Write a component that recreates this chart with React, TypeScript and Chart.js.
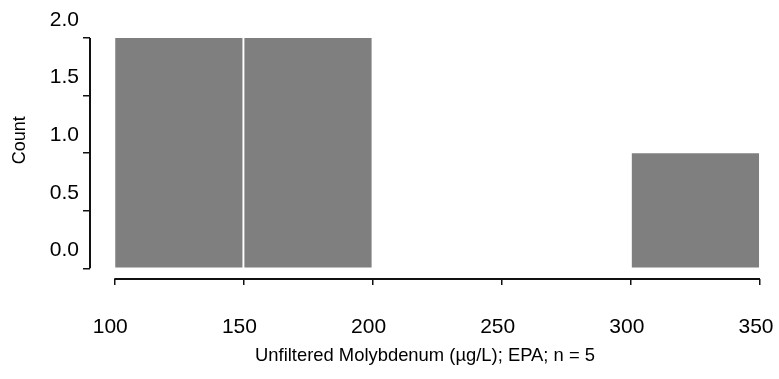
import React, { useEffect, useRef } from "react";
import { Chart, registerables } from "chart.js";

Chart.register(...registerables);

// ---- data ----
const BIN_EDGES = [100, 150, 200, 250, 300, 350];
const COUNTS = [2, 2, 0, 0, 1];
const X_TICKS = [100, 150, 200, 250, 300, 350];
const Y_TICKS = [0, 0.5, 1.0, 1.5, 2.0];
const X_TITLE = "Unfiltered Molybdenum (µg/L); EPA; n = 5";
const Y_TITLE = "Count";

// axis extents (the axes are drawn detached from the data region, R-style)
const X_MIN = 90.6;
const X_MAX = 350;
const Y_MIN = -0.093;
const Y_MAX = 2;

const FONT = '"Liberation Sans", Arial, Helvetica, sans-serif';

const axisPlugin = {
  id: "detachedAxes",
  afterDraw(chart: any) {
    const { ctx, chartArea, scales } = chart;
    const x = scales.x;
    const y = scales.y;
    ctx.save();
    ctx.strokeStyle = "#111";
    ctx.lineWidth = 2;
    ctx.beginPath();
    ctx.moveTo(x.getPixelForValue(X_TICKS[0]), chartArea.bottom);
    ctx.lineTo(x.getPixelForValue(X_TICKS[X_TICKS.length - 1]), chartArea.bottom);
    ctx.moveTo(chartArea.left, y.getPixelForValue(Y_TICKS[0]));
    ctx.lineTo(chartArea.left, y.getPixelForValue(Y_TICKS[Y_TICKS.length - 1]));
    ctx.stroke();

    // y axis title
    ctx.translate(chartArea.left - 70, y.getPixelForValue(1) - 13);
    ctx.rotate(-Math.PI / 2);
    ctx.font = `18px ${FONT}`;
    ctx.fillStyle = "#000";
    ctx.textAlign = "center";
    ctx.textBaseline = "middle";
    ctx.fillText(Y_TITLE, 0, 0);
    ctx.restore();
  },
};

export default function App() {
  const ref = useRef<HTMLCanvasElement | null>(null);

  useEffect(() => {
    if (!ref.current) return;
    const data = COUNTS.map((c, i) => ({
      x: (BIN_EDGES[i] + BIN_EDGES[i + 1]) / 2,
      y: c,
    }));
    const chart = new Chart(ref.current, {
      type: "bar",
      data: {
        datasets: [
          {
            data,
            backgroundColor: "#7f7f7f",
            borderWidth: 0,
            barPercentage: 0.985,
            categoryPercentage: 1,
          } as any,
        ],
      },
      options: {
        responsive: false,
        animation: false,
        layout: { padding: { top: 38, right: 0, left: 0, bottom: 0 } },
        plugins: {
          legend: { display: false },
          tooltip: { enabled: false },
        },
        scales: {
          x: {
            type: "linear",
            offset: false,
            min: X_MIN,
            max: X_MAX,
            afterBuildTicks: (s: any) => {
              s.ticks = X_TICKS.map((v) => ({ value: v }));
            },
            afterFit: (s: any) => {
              s.height = 100;
              s.paddingRight = 19;
            },
            grid: {
              offset: false,
              drawOnChartArea: false,
              drawTicks: true,
              tickLength: 6,
              color: "#111",
              lineWidth: 1.5,
            },
            border: { display: false },
            ticks: {
              color: "#000",
              font: { family: FONT, size: 21 },
              padding: 30,
              labelOffset: -4,
              maxRotation: 0,
              autoSkip: false,
              callback: (v: any) => String(v),
            },
            title: {
              display: true,
              text: X_TITLE,
              color: "#000",
              font: { family: FONT, size: 18.4 },
              padding: { top: 0, bottom: 12 },
            },
          },
          y: {
            type: "linear",
            min: Y_MIN,
            max: Y_MAX,
            afterBuildTicks: (s: any) => {
              s.ticks = Y_TICKS.map((v) => ({ value: v }));
            },
            afterFit: (s: any) => {
              s.width = 90;
            },
            grid: {
              drawOnChartArea: false,
              drawTicks: true,
              tickLength: 7,
              color: "#111",
              lineWidth: 1.5,
            },
            border: { display: false },
            ticks: {
              color: "#000",
              font: { family: FONT, size: 21 },
              padding: 4,
              labelOffset: -18,
              autoSkip: false,
              callback: (v: any) => Number(v).toFixed(1),
            },
          },
        },
      },
      plugins: [axisPlugin],
    });
    return () => chart.destroy();
  }, []);

  return (
    <div style={{ position: "absolute", left: 0, top: 0, width: 779, height: 379, background: "#fff" }}>
      <canvas ref={ref} width={779} height={379} style={{ display: "block" }} />
    </div>
  );
}
